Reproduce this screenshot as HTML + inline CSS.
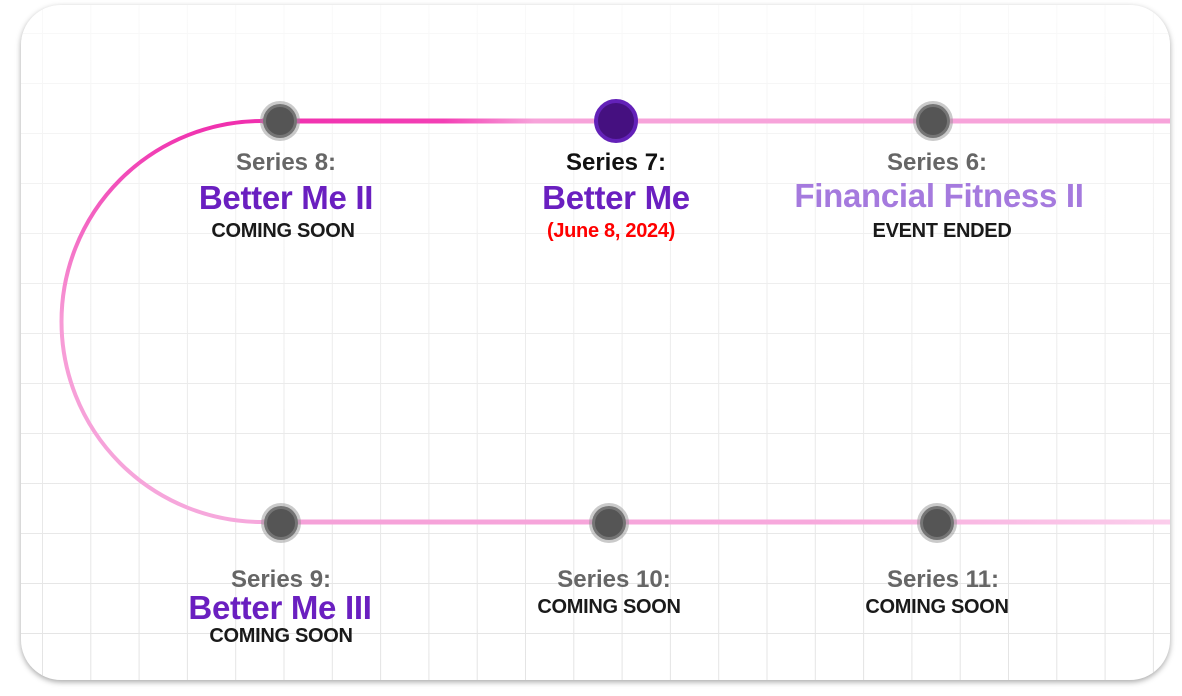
<!DOCTYPE html>
<html><head><meta charset="utf-8"><style>
html,body{margin:0;padding:0;background:#fff;}
body{width:1182px;height:696px;position:relative;overflow:hidden;font-family:"Liberation Sans",sans-serif;}
.card{position:absolute;left:21px;top:5px;width:1149px;height:675px;border-radius:40px;overflow:hidden;background:#fff;box-shadow:0 2px 6px rgba(0,0,0,.35);}
.t{position:absolute;text-align:center;transform:translateX(-50%);white-space:nowrap;line-height:1;}
.s{font-size:24px;color:#666;font-weight:bold;}
.h{font-size:33px;color:#6a1fc0;font-weight:bold;letter-spacing:-0.3px;}
.c{font-size:20px;color:#1a1a1a;font-weight:bold;letter-spacing:-0.3px;}
</style></head><body>
<div class="card">
<svg width="1149" height="675" style="position:absolute;left:0;top:0" viewBox="21 5 1149 675">
<defs>
<pattern id="g" x="42" y="33" width="48.3" height="50" patternUnits="userSpaceOnUse">
<path d="M0 0V50M0 0H48.3" stroke="#e4e4e4" stroke-width="2" fill="none"/>
</pattern>
<linearGradient id="fade" x1="0" y1="0" x2="0" y2="1">
<stop offset="0" stop-color="#fff" stop-opacity="0.8"/>
<stop offset="0.5" stop-color="#fff" stop-opacity="0.3"/>
<stop offset="1" stop-color="#fff" stop-opacity="0"/>
</linearGradient>
<linearGradient id="top" x1="262" y1="0" x2="1170" y2="0" gradientUnits="userSpaceOnUse">
<stop offset="0" stop-color="#f02fae"/>
<stop offset="0.2" stop-color="#f33fb5"/>
<stop offset="0.3" stop-color="#f7a3da"/>
<stop offset="1" stop-color="#f7a3da"/>
</linearGradient>
<linearGradient id="arc" x1="0" y1="121" x2="0" y2="522" gradientUnits="userSpaceOnUse">
<stop offset="0" stop-color="#f02fae"/>
<stop offset="0.5" stop-color="#f79bd6"/>
<stop offset="1" stop-color="#f6a8dc"/>
</linearGradient>
<linearGradient id="bot" x1="262" y1="0" x2="1170" y2="0" gradientUnits="userSpaceOnUse">
<stop offset="0" stop-color="#f5a0d8"/>
<stop offset="0.6" stop-color="#f7a8dc"/>
<stop offset="1" stop-color="#fbcdeb"/>
</linearGradient>
</defs>
<rect x="21" y="5" width="1149" height="675" fill="url(#g)"/>
<rect x="21" y="5" width="1149" height="675" fill="url(#fade)"/>
<path d="M262 121 A200 200 0 0 0 262 522" stroke="url(#arc)" stroke-width="4" fill="none"/>
<line x1="262" y1="121" x2="1172" y2="121" stroke="url(#top)" stroke-width="5"/>
<line x1="262" y1="522" x2="1172" y2="522" stroke="url(#bot)" stroke-width="5"/>
<g fill="#555" stroke="rgba(150,150,150,.5)" stroke-width="6">
<circle cx="280" cy="121" r="17"/>
<circle cx="933" cy="121" r="17"/>
<circle cx="281" cy="523" r="17"/>
<circle cx="609" cy="523" r="17"/>
<circle cx="937" cy="523" r="17"/>
</g>
<circle cx="616" cy="121" r="20" fill="#451080" stroke="#6321b8" stroke-width="4"/>
</svg>
</div>
<div class="t s" style="left:286px;top:151px">Series 8:</div>
<div class="t h" style="left:286px;top:181px">Better Me II</div>
<div class="t c" style="left:283px;top:221px">COMING SOON</div>

<div class="t s" style="left:616px;top:151px;color:#111">Series 7:</div>
<div class="t h" style="left:616px;top:181px">Better Me</div>
<div class="t c" style="left:611px;top:221px;color:#f00">(June 8, 2024)</div>

<div class="t s" style="left:937px;top:151px">Series 6:</div>
<div class="t h" style="left:939px;top:179px;color:#a57ade">Financial Fitness II</div>
<div class="t c" style="left:942px;top:221px">EVENT ENDED</div>

<div class="t s" style="left:281px;top:568px">Series 9:</div>
<div class="t h" style="left:280px;top:591px">Better Me III</div>
<div class="t c" style="left:281px;top:626px">COMING SOON</div>

<div class="t s" style="left:614px;top:568px">Series 10:</div>
<div class="t c" style="left:609px;top:597px">COMING SOON</div>

<div class="t s" style="left:943px;top:568px">Series 11:</div>
<div class="t c" style="left:937px;top:597px">COMING SOON</div>
</body></html>
